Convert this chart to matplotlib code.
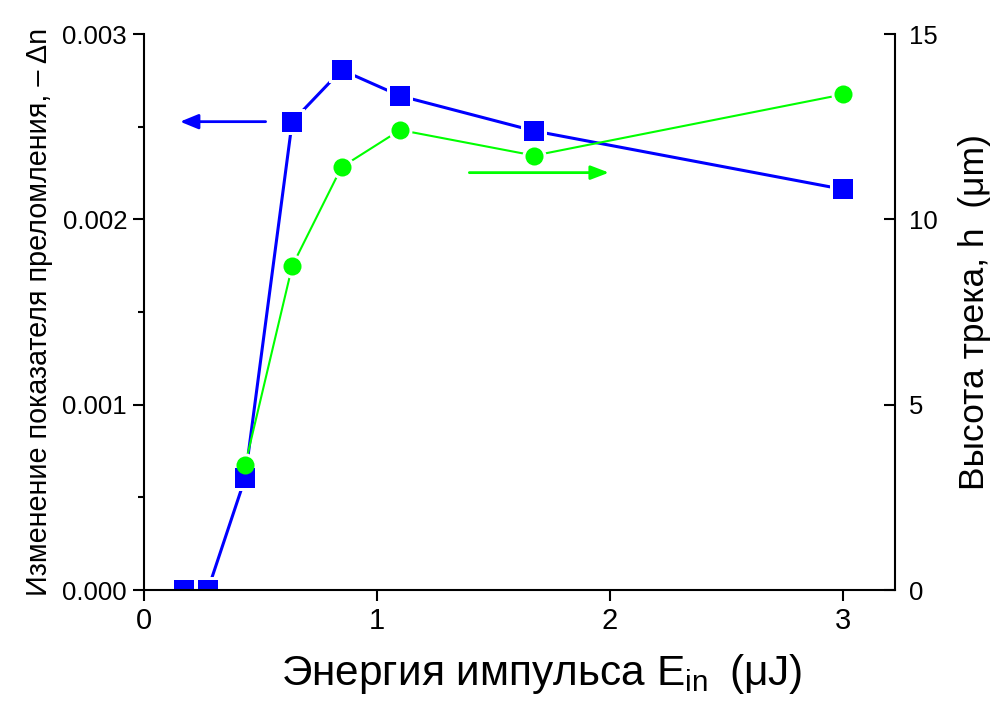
import matplotlib
matplotlib.use("Agg")
import matplotlib.pyplot as plt
from matplotlib.ticker import MultipleLocator, FixedLocator

# ---- data ----
energy_dn = [0.175, 0.275, 0.435, 0.637, 0.849, 1.10, 1.675, 3.00]
delta_n = [0.0, 0.0, 0.000604, 0.002527, 0.002806, 0.002666, 0.002477, 0.002162]

energy_h = [0.435, 0.637, 0.849, 1.10, 1.675, 3.00]
height_h = [3.37, 8.74, 11.41, 12.41, 11.72, 13.37]

x_ticks = [0, 1, 2, 3]
left_ticks = [0.000, 0.001, 0.002, 0.003]
left_ticklabels = ["0.000", "0.001", "0.002", "0.003"]
right_ticks = [0, 5, 10, 15]

BLUE = "#0000ff"
GREEN = "#00ff00"

plt.rcParams["font.family"] = ["Liberation Sans", "DejaVu Sans"]
plt.rcParams["mathtext.fontset"] = "custom"
plt.rcParams["mathtext.rm"] = "Liberation Sans"
plt.rcParams["mathtext.it"] = "Liberation Sans"

fig = plt.figure(figsize=(10.05, 7.03), dpi=100)
W, H = 1005, 703
x0, x1, ytop, ybot = 143.7, 895, 34, 590
ax = fig.add_axes([x0 / W, (H - ybot) / H, (x1 - x0) / W, (ybot - ytop) / H])
ax2 = ax.twinx()

ax.set_xlim(0, 3.223)
ax.set_ylim(0, 0.003)
ax2.set_ylim(0, 15)

# line layers
ax.plot(energy_dn, delta_n, color=BLUE, lw=2.2, zorder=2, clip_on=True)
ax.plot(energy_h, height_h, color=GREEN, lw=1.5, zorder=2.1, transform=ax2.transData)
# white halos to create gaps between lines and markers
ax.plot(energy_dn, delta_n, ls="none", marker="s", ms=14.4, mfc="white", mec="white", mew=4.3, zorder=2.2)
ax.plot(energy_h, height_h, ls="none", marker="o", ms=13.0, mfc="white", mec="white", mew=4.3,
        zorder=2.3, transform=ax2.transData)
# markers
ax.plot(energy_dn, delta_n, ls="none", marker="s", ms=14.4, mfc=BLUE, mec=BLUE, mew=0, zorder=2.4)
ax.plot(energy_h, height_h, ls="none", marker="o", ms=13.0, mfc=GREEN, mec=GREEN, mew=0,
        zorder=2.5, transform=ax2.transData)

# arrows
ax.annotate("", xy=(0.156, 0.002527), xytext=(0.523, 0.002527),
            arrowprops=dict(arrowstyle="-|>,head_length=1.1,head_width=0.45", color=BLUE, lw=2.0,
                            shrinkA=0, shrinkB=0), zorder=3)
ax2.annotate("", xy=(1.996, 11.26), xytext=(1.397, 11.26),
             arrowprops=dict(arrowstyle="-|>,head_length=1.1,head_width=0.42", color=GREEN, lw=2.0,
                             shrinkA=0, shrinkB=0))

# spines
for a in (ax, ax2):
    a.spines["top"].set_visible(False)
    for s in a.spines.values():
        s.set_linewidth(1.5)
ax.spines["right"].set_visible(False)
ax2.spines["left"].set_visible(False)
ax2.spines["bottom"].set_visible(False)

# ticks
ax.xaxis.set_major_locator(FixedLocator(x_ticks))
ax.set_xticklabels([str(t) for t in x_ticks])
ax.yaxis.set_major_locator(FixedLocator(left_ticks))
ax.set_yticklabels(left_ticklabels)
ax.yaxis.set_minor_locator(MultipleLocator(0.0005))
ax2.yaxis.set_major_locator(FixedLocator(right_ticks))
ax2.set_yticklabels([str(t) for t in right_ticks])

ax.tick_params(axis="y", which="major", direction="out", length=8, width=1.5, labelsize=18.5, pad=4)
ax.tick_params(axis="x", which="major", direction="out", length=8, width=1.5, labelsize=21, pad=4)
ax.tick_params(axis="y", which="minor", direction="out", length=4.5, width=1.5)
ax.tick_params(axis="x", which="minor", bottom=False)
ax2.tick_params(axis="y", which="major", direction="in", length=8, width=1.5, labelsize=18.5, pad=10)
ax2.tick_params(axis="y", which="minor", right=False)

ax.set_ylabel("Изменение показателя преломления, – Δn", fontsize=20.7, labelpad=7)
ax2.set_ylabel("Высота трека, h  (μm)", fontsize=25.5, labelpad=15)
ax.set_xlabel("Энергия импульса E$_{\\mathregular{in}}$\u2009 (μJ)", fontsize=30.5, va="top")
ax.xaxis.set_label_coords(0.530, -0.112)

fig.savefig("out.png", dpi=100)
